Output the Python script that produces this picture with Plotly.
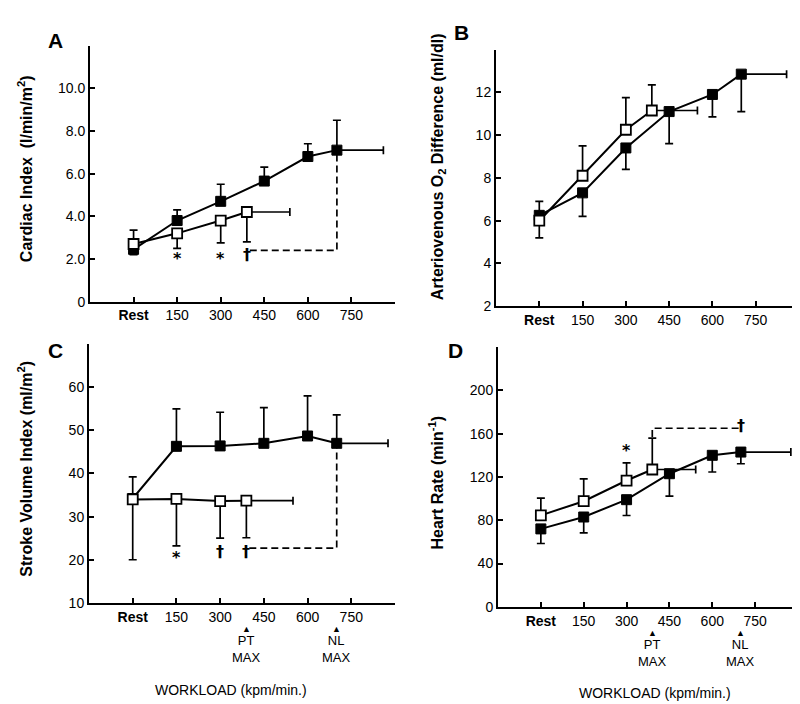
import plotly.graph_objects as go

# ---------------- data ----------------
tick_vals = [0, 150, 300, 450, 600, 750]
tick_text = ["<b>Rest</b>", "150", "300", "450", "600", "750"]

nl_x = [0, 150, 300, 450, 600, 700]   # normal subjects (filled)
pt_x = [0, 150, 300, 390]             # patients (open)

# Panel A: cardiac index (l/min/m2)
nl_ci = [2.45, 3.8, 4.7, 5.65, 6.8, 7.1]
nl_ci_up = [0, 0.5, 0.8, 0.65, 0.6, 1.4]
nl_ci_dn = [0.25, 0, 0, 0, 0, 0]
nl_ci_xr = [0, 0, 0, 0, 0, 160]
pt_ci = [2.7, 3.2, 3.8, 4.2]
pt_ci_up = [0.65, 0, 0, 0]
pt_ci_dn = [0, 0.7, 1.05, 1.4]
pt_ci_xr = [0, 0, 0, 148]
sig_a_x = [150, 300, 390]
sig_a_y = [2.0, 2.0, 2.2]
sig_a_t = ["*", "*", "†"]
dash_a_x = [400, 700, 700]
dash_a_y = [2.4, 2.4, 7.1]

# Panel B: arteriovenous O2 difference (ml/dl)
nl_av = [6.25, 7.3, 9.4, 11.1, 11.9, 12.85]
nl_av_up = [0.65, 0, 0, 0, 0, 0]
nl_av_dn = [0, 1.1, 1.0, 1.5, 1.05, 1.75]
nl_av_xr = [0, 0, 0, 0, 0, 157]
pt_av = [6.0, 8.1, 10.25, 11.15]
pt_av_up = [0, 1.4, 1.5, 1.2]
pt_av_dn = [0.8, 0, 0, 0]
pt_av_xr = [0, 0, 0, 158]

# Panel C: stroke volume index (ml/m2)
nl_sv = [34.2, 46.3, 46.4, 47.0, 48.7, 47.0]
nl_sv_up = [5.0, 8.7, 7.8, 8.3, 9.3, 6.6]
nl_sv_dn = [0, 0, 0, 0, 0, 0]
nl_sv_xr = [0, 0, 0, 0, 0, 176]
pt_sv = [34.0, 34.1, 33.6, 33.7]
pt_sv_up = [0, 0, 0, 0]
pt_sv_dn = [14.0, 10.9, 8.6, 8.6]
pt_sv_xr = [0, 0, 0, 160]
sig_c_x = [150, 300, 390]
sig_c_y = [20.5, 21.8, 21.8]
sig_c_t = ["*", "†", "†"]
dash_c_x = [400, 700, 700]
dash_c_y = [22.7, 22.7, 47.0]

# Panel D: heart rate (min-1)
nl_hr = [72, 83, 99, 123, 140, 143]
nl_hr_up = [0, 0, 0, 0, 0, 0]
nl_hr_dn = [13.5, 14.7, 14.6, 20.8, 15.4, 10.8]
nl_hr_xr = [0, 0, 0, 0, 0, 175]
pt_hr = [84.5, 97.6, 116.7, 126.9]
pt_hr_up = [16, 20.6, 16.3, 29]
pt_hr_dn = [0, 0, 0, 0]
pt_hr_xr = [0, 0, 0, 152]
sig_d_x = [300, 700]
sig_d_y = [144, 168]
sig_d_t = ["*", "†"]
dash_d_x = [390, 390, 700]
dash_d_y = [157, 165, 165]

# markers for maximal workloads
max_x = [390, 700]
max_lbl = ["PT<br>MAX", "NL<br>MAX"]

panels = [
    dict(ax="", nl=nl_ci, nlu=nl_ci_up, nld=nl_ci_dn, nlx=nl_ci_xr,
         pt=pt_ci, ptu=pt_ci_up, ptd=pt_ci_dn, ptx=pt_ci_xr,
         sx=sig_a_x, sy=sig_a_y, st=sig_a_t, dx=dash_a_x, dy=dash_a_y,
         xdom=[82/800, 387/800], ydom=[1-297/704, 1-38/704], yr=[0, 12],
         yt=[0, 2, 4, 6, 8, 10], ytt=["0", "2.0", "4.0", "6.0", "8.0", "10.0"]),
    dict(ax="2", nl=nl_av, nlu=nl_av_up, nld=nl_av_dn, nlx=nl_av_xr,
         pt=pt_av, ptu=pt_av_up, ptd=pt_av_dn, ptx=pt_av_xr,
         sx=[], sy=[], st=[], dx=None, dy=None,
         xdom=[488/800, 791/800], ydom=[1-301.7/704, 1-42/704], yr=[2, 14],
         yt=[2, 4, 6, 8, 10, 12], ytt=["2", "4", "6", "8", "10", "12"]),
    dict(ax="3", nl=nl_sv, nlu=nl_sv_up, nld=nl_sv_dn, nlx=nl_sv_xr,
         pt=pt_sv, ptu=pt_sv_up, ptd=pt_sv_dn, ptx=pt_sv_xr,
         sx=sig_c_x, sy=sig_c_y, st=sig_c_t, dx=dash_c_x, dy=dash_c_y,
         xdom=[81/800, 387/800], ydom=[1-601.7/704, 1-340/704], yr=[10, 70],
         yt=[10, 20, 30, 40, 50, 60], ytt=["10", "20", "30", "40", "50", "60"]),
    dict(ax="4", nl=nl_hr, nlu=nl_hr_up, nld=nl_hr_dn, nlx=nl_hr_xr,
         pt=pt_hr, ptu=pt_hr_up, ptd=pt_hr_dn, ptx=pt_hr_xr,
         sx=sig_d_x, sy=sig_d_y, st=sig_d_t, dx=dash_d_x, dy=dash_d_y,
         xdom=[490/800, 790/800], ydom=[1-605.7/704, 1-343/704], yr=[0, 240],
         yt=[0, 40, 80, 120, 160, 200], ytt=["0", "40", "80", "120", "160", "200"]),
]

FONT = "Liberation Sans"
fig = go.Figure()
layout = dict(width=800, height=704, margin=dict(l=0, r=0, t=0, b=0),
              paper_bgcolor="white", plot_bgcolor="white", showlegend=False,
              font=dict(family=FONT, color="black", size=14))
ann = []

for p in panels:
    xa, ya = "x" + p["ax"], "y" + p["ax"]
    if p["dx"] is not None:
        fig.add_trace(go.Scatter(x=p["dx"], y=p["dy"], mode="lines", xaxis=xa, yaxis=ya,
                                 line=dict(color="black", width=1.7, dash="7px,4px"),
                                 hoverinfo="skip"))
    fig.add_trace(go.Scatter(
        x=nl_x, y=p["nl"], mode="lines+markers", xaxis=xa, yaxis=ya,
        line=dict(color="black", width=2),
        marker=dict(symbol="square", size=10, color="black", line=dict(color="black", width=1)),
        error_y=dict(type="data", symmetric=False, array=p["nlu"], arrayminus=p["nld"],
                     color="black", thickness=1.7, width=4),
        error_x=dict(type="data", symmetric=False, array=p["nlx"], arrayminus=[0]*6,
                     color="black", thickness=1.7, width=4)))
    fig.add_trace(go.Scatter(
        x=pt_x, y=p["pt"], mode="lines+markers", xaxis=xa, yaxis=ya,
        line=dict(color="black", width=2),
        marker=dict(symbol="square", size=10, color="white", line=dict(color="black", width=1.8)),
        error_y=dict(type="data", symmetric=False, array=p["ptu"], arrayminus=p["ptd"],
                     color="black", thickness=1.7, width=4),
        error_x=dict(type="data", symmetric=False, array=p["ptx"], arrayminus=[0]*4,
                     color="black", thickness=1.7, width=4)))
    for sx, sy, st in zip(p["sx"], p["sy"], p["st"]):
        ann.append(dict(x=sx, y=sy, xref=xa, yref=ya, text="<b>" + st + "</b>",
                        showarrow=False, xanchor="center", yanchor="middle",
                        font=dict(family="DejaVu Sans", size=16, color="black")))
    layout["xaxis" + p["ax"]] = dict(
        domain=p["xdom"], range=[-150, 900], anchor=ya, tickvals=tick_vals, ticktext=tick_text,
        showline=True, linecolor="black", linewidth=2, showgrid=False, zeroline=False,
        ticks="inside", ticklen=5, tickcolor="black", tickwidth=1.5,
        tickfont=dict(family=FONT, size=14, color="black"))
    layout["yaxis" + p["ax"]] = dict(
        domain=p["ydom"], range=p["yr"], anchor=xa, tickvals=p["yt"], ticktext=p["ytt"],
        showline=True, linecolor="black", linewidth=2, showgrid=False, zeroline=False,
        ticks="inside", ticklen=5, tickcolor="black", tickwidth=1.5,
        tickfont=dict(family=FONT, size=14, color="black"))

def pa(x, y, text, size=14, angle=0, xanchor="center"):
    ann.append(dict(x=x/800, y=1-y/704, xref="paper", yref="paper", text=text,
                    showarrow=False, textangle=angle, xanchor=xanchor, yanchor="middle",
                    font=dict(family=FONT, size=size, color="black")))

# panel letters
pa(47, 33, "<b>A</b>", 21)
pa(453, 25, "<b>B</b>", 21)
pa(47, 346, "<b>C</b>", 21)
pa(447, 346, "<b>D</b>", 21)
# y titles
pa(17, 163, "<b>Cardiac Index  (l/min/m<sup>2</sup>)</b>", 16, -90)
pa(430, 161, "<b>Arteriovenous O<sub>2</sub> Difference (ml/dl)</b>", 16, -90)
pa(17, 466, "<b>Stroke Volume Index (ml/m<sup>2</sup>)</b>", 16, -90)
pa(428, 480, "<b>Heart Rate (min<sup>-1</sup>)</b>", 16, -90)
# workload labels
pa(223, 690, "WORKLOAD (kpm/min.)", 14)
pa(647, 693, "WORKLOAD (kpm/min.)", 14)

# PT MAX / NL MAX markers
for xr, yoff in (("x3", 0), ("x4", 3.5)):
    for mx, ml in zip(max_x, max_lbl):
        ann.append(dict(x=mx, y=1-(628.5 + yoff)/704, xref=xr, yref="paper", text="▲",
                        showarrow=False, xanchor="center", yanchor="middle",
                        font=dict(family=FONT, size=9, color="black")))
        ann.append(dict(x=mx, y=1-(648.5 + yoff)/704, xref=xr, yref="paper", text=ml,
                        showarrow=False, xanchor="center", yanchor="middle",
                        font=dict(family=FONT, size=13, color="black")))

layout["annotations"] = ann
fig.update_layout(**layout)
fig.write_html("out.html")
